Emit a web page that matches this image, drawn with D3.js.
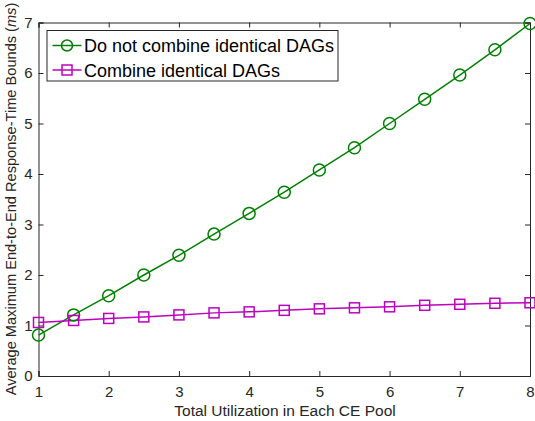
<!DOCTYPE html>
<html><head><meta charset="utf-8">
<script src="https://cdn.jsdelivr.net/npm/d3@7"></script>
<style>body{margin:0;background:#fff;} svg{display:block;font-family:"Liberation Sans",Arial,sans-serif;}</style>
</head><body>
<svg id="c" width="535" height="421"></svg>
<script>
const xValues = [1,1.5,2,2.5,3,3.5,4,4.5,5,5.5,6,6.5,7,7.5,8];
const separate = [0.81,1.21,1.59,2.0,2.39,2.81,3.22,3.64,4.08,4.52,5.0,5.48,5.96,6.46,6.98];
const combined = [1.06,1.10,1.14,1.17,1.21,1.25,1.27,1.30,1.33,1.35,1.37,1.40,1.42,1.44,1.45];
const seriesNames = ["Do not combine identical DAGs","Combine identical DAGs"];
const xTicks = [1,2,3,4,5,6,7,8];
const yTicks = [0,1,2,3,4,5,6,7];

const svg = d3.select("#c");
const L=38.5, R=530, T=22.5, B=376;
const x = d3.scaleLinear().domain([1,8]).range([L,R]);
const y = d3.scaleLinear().domain([0,7]).range([B,T]);
const axisCol="#262626";
const tk=5;

const gx = svg.append("g").attr("transform",`translate(0,${B})`)
  .call(d3.axisBottom(x).tickValues(xTicks).tickSize(-tk).tickPadding(10).tickFormat(d3.format("d")));
const gy = svg.append("g").attr("transform",`translate(${L},0)`)
  .call(d3.axisLeft(y).tickValues(yTicks).tickSize(-tk).tickPadding(6).tickFormat(d3.format("d")));
const gxt = svg.append("g").attr("transform",`translate(0,${T})`)
  .call(d3.axisTop(x).tickValues(xTicks).tickSize(-tk).tickFormat(""));
const gyr = svg.append("g").attr("transform",`translate(${R},0)`)
  .call(d3.axisRight(y).tickValues(yTicks).tickSize(-tk).tickFormat(""));
[gx,gy,gxt,gyr].forEach(g=>{
  g.select(".domain").attr("stroke",axisCol).attr("stroke-width",1);
  g.selectAll(".tick line").attr("stroke",axisCol);
  g.selectAll("text").attr("fill",axisCol).style("font-size","15px").style("font-family","Liberation Sans, Arial, sans-serif");
});

const line = d3.line().x((d,i)=>x(xValues[i])).y(d=>y(d));
const green="#008000", mag="#bf00bf";
svg.append("path").datum(separate).attr("d",line).attr("fill","none").attr("stroke",green).attr("stroke-width",1.5);
svg.append("path").datum(combined).attr("d",line).attr("fill","none").attr("stroke",mag).attr("stroke-width",1.5);
svg.append("g").selectAll("circle").data(separate).join("circle")
  .attr("cx",(d,i)=>x(xValues[i])).attr("cy",d=>y(d)).attr("r",6)
  .attr("fill","none").attr("stroke",green).attr("stroke-width",1.5);
svg.append("g").selectAll("rect").data(combined).join("rect")
  .attr("x",(d,i)=>x(xValues[i])-5).attr("y",d=>y(d)-5).attr("width",10).attr("height",10)
  .attr("fill","none").attr("stroke",mag).attr("stroke-width",1.5);

svg.append("text").attr("x",285).attr("y",416).attr("text-anchor","middle")
  .attr("fill",axisCol).style("font-size","15.5px").text("Total Utilization in Each CE Pool");
const yl = svg.append("text").attr("transform",`translate(16,${199}) rotate(-90)`).attr("text-anchor","middle")
  .attr("fill",axisCol).style("font-size","14.6px");
yl.append("tspan").text("Average Maximum End-to-End Response-Time Bounds (");
yl.append("tspan").style("font-style","italic").text("ms");
yl.append("tspan").text(")");

const lg = svg.append("g");
lg.append("rect").attr("x",47).attr("y",30.5).attr("width",291).attr("height",50.5)
  .attr("fill","#fff").attr("stroke","#262626").attr("stroke-width",1);
const cols=[green,mag];
seriesNames.forEach((n,i)=>{
  const cy = 45.5 + i*24.5;
  lg.append("line").attr("x1",52.5).attr("x2",81.5).attr("y1",cy).attr("y2",cy).attr("stroke",cols[i]).attr("stroke-width",1.5);
  if(i===0) lg.append("circle").attr("cx",67).attr("cy",cy).attr("r",5.5).attr("fill","none").attr("stroke",cols[i]).attr("stroke-width",1.5);
  else lg.append("rect").attr("x",62).attr("y",cy-5).attr("width",10).attr("height",10).attr("fill","none").attr("stroke",cols[i]).attr("stroke-width",1.5);
  lg.append("text").attr("x",84).attr("y",cy+6.5).attr("fill","#000").style("font-size","18px").text(n);
});
</script>
</body></html>
